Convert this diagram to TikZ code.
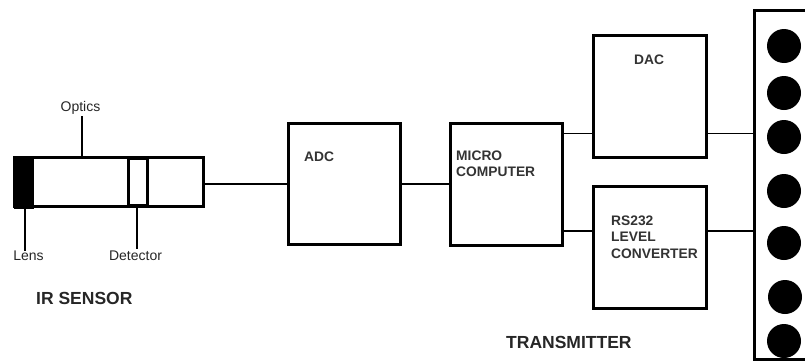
\documentclass[tikz,border=0pt]{standalone}
\usepackage{fontspec}
\setmainfont{Liberation Sans}
\tikzset{
  blockbox/.style={draw=black,line width=3pt,fill=white,inner sep=0pt,outer sep=0pt,anchor=north west},
  wire/.style={draw=black,line width=1.6pt},
  pin/.style={circle,fill=black,draw=none,minimum size=34pt,inner sep=0pt},
  small/.style={font=\fontsize{14pt}{16pt}\selectfont,text=black!85,inner sep=0pt},
  blocktext/.style={font=\fontsize{13.8pt}{16.5pt}\selectfont\bfseries,text=black!80,inner sep=0pt,align=left,anchor=north west},
  caption/.style={font=\fontsize{17.5pt}{20pt}\selectfont\bfseries,text=black!85,inner sep=0pt,anchor=west},
}
\begin{document}
\begin{tikzpicture}[x=1pt,y=-1pt]
\path[use as bounding box] (0,0) rectangle (805,362);
\clip (0,0) rectangle (805,362);
% sensor
\node[blockbox,minimum width=189pt,minimum height=49pt] (body) at (14.5,157.5) {};
\node[draw=black,fill=black,line width=1pt,minimum width=19pt,minimum height=51pt,inner sep=0pt,anchor=north west] (lens) at (13.5,156.5) {};
\node[blockbox,minimum width=19pt,minimum height=47pt] (det) at (128.5,158.5) {};
% blocks
\node[blockbox,minimum width=112pt,minimum height=121pt] (adc) at (288.5,123.5) {};
\node[blockbox,minimum width=112pt,minimum height=122pt] (micro) at (450,123.5) {};
\node[blockbox,minimum width=113pt,minimum height=122pt] (dac) at (593.5,35.5) {};
\node[blockbox,minimum width=113pt,minimum height=122pt] (rs) at (593.5,186.5) {};
\node[blockbox,minimum width=80pt,minimum height=349pt] (panel) at (754,10.5) {};
% pins
\foreach \n/\px/\py in {a/784/46,b/784/93,c/784/137,d/784/191,e/784/243,f/785/297,g/784/341}
  \node[pin] (pin\n) at (\px,\py) {};
% labels
\node[small] (opticslbl) at (80.5,107.5) {Optics};
\node[small] (lenslbl) at (28.5,255.5) {Lens};
\node[small] (detlbl) at (135.5,255.5) {Detector};
\coordinate (opticsend) at (82,116);
\coordinate (lenstop) at (25,208);
\coordinate (lensend) at (25,251);
\coordinate (detend) at (137,249);
\coordinate (dettop) at (137,208);
\draw[wire] (opticsend) -- (opticsend |- body.north);
\draw[wire] (lenstop) -- (lensend);
\draw[wire] (dettop) -- (detend);
% connectors
\draw[wire] (body.east |- 0,184) -- (adc.west |- 0,184);
\draw[wire] (adc.east |- 0,184) -- (micro.west |- 0,184);
\draw[wire] (micro.east |- 0,133.5) -- (dac.west |- 0,133.5);
\draw[wire] (micro.east |- 0,231) -- (rs.west |- 0,231);
\draw[wire] (dac.east |- 0,133.5) -- (panel.west |- 0,133.5);
\draw[wire] (rs.east |- 0,231) -- (panel.west |- 0,231);
% texts
\node[blocktext] (adclbl) at (304,152) {ADC};
\node[blocktext] (microlbl) at (456,150.5) {MICRO\\COMPUTER};
\node[blocktext] (daclbl) at (634,55) {DAC};
\node[blocktext] (rslbl) at (611,215.5) {RS232\\LEVEL\\CONVERTER};
\node[caption] (ir) at (36,298) {IR SENSOR};
\node[caption] (tx) at (506,342) {TRANSMITTER};
\end{tikzpicture}
\end{document}
